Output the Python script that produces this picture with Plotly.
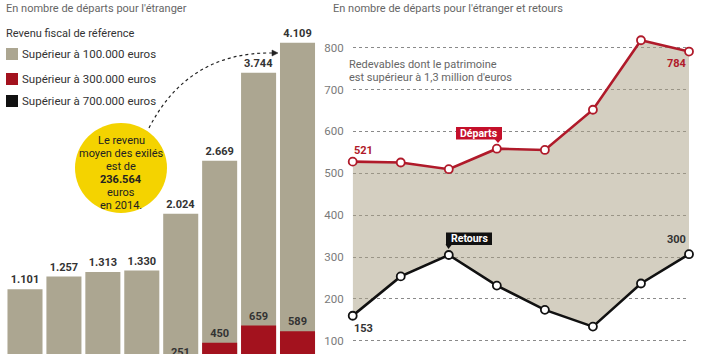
import plotly.graph_objects as go

# ---------------- data ----------------
years = [2007, 2008, 2009, 2010, 2011, 2012, 2013, 2014]
sup_100k = [1101, 1257, 1313, 1330, 2024, 2669, 3744, 4109]
sup_300k = [None, None, None, None, 251, 450, 659, 589]
sup_700k = [None] * 8  # hidden below the crop

departs = [521, 519, 503, 552, 549, 645, 811, 784]
retours = [153, 247, 298, 225, 167, 127, 230, 300]
grid_ticks = [100, 200, 300, 400, 500, 600, 700, 800]

legend_labels = ["Supérieur à 100.000 euros", "Supérieur à 300.000 euros", "Supérieur à 700.000 euros"]

# ---------------- style ----------------
FONT = "Roboto"
BEIGE = "#aca691"
RED_BAR = "#a3121e"
RED_LINE = "#b01a2a"
RED_BOX = "#c4102b"
BLACK = "#111111"
FILL = "rgba(169,159,131,0.5)"
YELLOW = "#f4d300"
TXT = "#333333"
GREY = "#666666"

W, H = 708, 354


def fr(v):
    return f"{v:,}".replace(",", ".")


fig = go.Figure()

# ---- left: bars ----
fig.add_trace(go.Bar(
    x=years, y=sup_100k, marker_color=BEIGE, marker_line_width=0,
    text=[fr(v) for v in sup_100k], textposition="outside", cliponaxis=False,
    textfont=dict(family=FONT, size=11, color=TXT, weight=700),
    xaxis="x", yaxis="y", showlegend=False, hoverinfo="skip"))
fig.add_trace(go.Bar(
    x=years, y=sup_300k, marker_color=RED_BAR, marker_line_width=0,
    text=[fr(v) if v is not None else "" for v in sup_300k], textposition="outside",
    cliponaxis=False,
    textfont=dict(family=FONT, size=11, color=TXT, weight=700),
    xaxis="x", yaxis="y", showlegend=False, hoverinfo="skip"))
fig.add_trace(go.Bar(
    x=years, y=sup_700k, marker_color=BLACK, marker_line_width=0,
    xaxis="x", yaxis="y", showlegend=False, hoverinfo="skip"))

# ---- right: grid axis holder ----
fig.add_trace(go.Scatter(x=[years[0]], y=[None], mode="lines", xaxis="x2", yaxis="y2",
                         showlegend=False, hoverinfo="skip"))

# ---- right: lines ----
fig.add_trace(go.Scatter(x=years, y=retours, mode="lines", line=dict(width=0),
                         xaxis="x2", yaxis="y4", showlegend=False, hoverinfo="skip"))
fig.add_trace(go.Scatter(x=years, y=departs, mode="lines", line=dict(width=0),
                         fill="tonexty", fillcolor=FILL,
                         xaxis="x2", yaxis="y4", showlegend=False, hoverinfo="skip"))
fig.add_trace(go.Scatter(x=years, y=retours, mode="lines+markers", cliponaxis=False,
                         line=dict(color=BLACK, width=2.6),
                         marker=dict(size=8, color="white", line=dict(color=BLACK, width=1.8)),
                         xaxis="x2", yaxis="y4", showlegend=False, hoverinfo="skip"))
fig.add_trace(go.Scatter(x=years, y=departs, mode="lines+markers", cliponaxis=False,
                         line=dict(color=RED_LINE, width=2.6),
                         marker=dict(size=8, color="white", line=dict(color=RED_LINE, width=1.8)),
                         xaxis="x2", yaxis="y4", showlegend=False, hoverinfo="skip"))
# dummy trace for the pixel overlay axes
fig.add_trace(go.Scatter(x=[None], y=[None], xaxis="x3", yaxis="y3",
                         showlegend=False, hoverinfo="skip"))

# ---- axes ----
bar_px0, bar_step = 25.0, 38.93
left_w = 320.0
y_lo, y_hi = 312, 4630
fig.update_layout(
    xaxis=dict(domain=[0, left_w / W],
               range=[years[0] - bar_px0 / bar_step, years[0] + (left_w - bar_px0) / bar_step],
               visible=False, fixedrange=True),
    yaxis=dict(domain=[0, 1], range=[y_lo, y_hi], visible=False),
    xaxis2=dict(domain=[352.7 / W, 689.0 / W], range=[years[0], years[-1]],
                visible=False, anchor="y2"),
    yaxis2=dict(domain=[0, 1], range=[68.5, 913.9], anchor="x2",
                tickvals=grid_ticks, showgrid=True, gridcolor="#8a8a8a",
                griddash="dot", gridwidth=1, zeroline=False, showline=False,
                ticks="", ticklabelstandoff=8,
                tickfont=dict(family=FONT, size=11.5, color="#7a7a7a")),
    yaxis4=dict(overlaying="y2", anchor="x2", range=[61.6, 907.1], visible=False),
    xaxis3=dict(domain=[0, 1], range=[0, W], visible=False, anchor="y3"),
    yaxis3=dict(domain=[0, 1], range=[H, 0], visible=False, anchor="x3"),
    barmode="overlay", bargap=0.1,
    width=W, height=H, margin=dict(l=0, r=0, t=0, b=0),
    paper_bgcolor="white", plot_bgcolor="rgba(0,0,0,0)",
    font=dict(family=FONT),
    showlegend=False,
)

shapes = []
anns = []


def ann(x, y, text, size=11, color=TXT, xanchor="left", weight=400, **kw):
    anns.append(dict(x=x, y=y, xref="x3", yref="y3", text=text, showarrow=False,
                     xanchor=xanchor, yanchor="middle",
                     font=dict(family=FONT, size=size, color=color, weight=weight), **kw))


# subtitles
ann(4, 8, "En nombre de départs pour l'étranger", size=11, color=GREY)
ann(331, 8, "En nombre de départs pour l'étranger et retours", size=11, color=GREY)
ann(4, 33, "Revenu fiscal de référence", size=11, color=TXT)

# legend (keys)
leg_y = [54, 79, 101]
for lab, col, yy in zip(legend_labels, [BEIGE, RED_BAR, BLACK], leg_y):
    shapes.append(dict(type="rect", xref="x3", yref="y3", x0=6, x1=18, y0=yy - 6, y1=yy + 6,
                       fillcolor=col, line=dict(width=0)))
    ann(19.5, yy, lab, size=11.5, color=TXT)

# label of the 2011 red bar, whose top lies below the visible area
px_per_unit = H / (y_hi - y_lo)
i251 = 4
lab_y = H - (sup_300k[i251] - y_lo) * px_per_unit - 7
lab_x = bar_px0 + (years[i251] - years[0]) * bar_step
ann(lab_x, lab_y, fr(sup_300k[i251]), size=11, color=TXT, xanchor="center", weight=700)

# yellow bubble
shapes.append(dict(type="circle", xref="x3", yref="y3", x0=75, x1=167, y0=123, y1=213,
                   fillcolor=YELLOW, line=dict(width=0), layer="below"))
bubble_lines = [("Le revenu", 140, 400), ("moyen des exilés", 153.5, 400), ("est de", 166, 400),
                ("236.564", 179, 700), ("euros", 192, 400), ("en 2014.", 205, 400)]
for t, yy, wgt in bubble_lines:
    ann(121, yy, t, size=11, color="#222222", xanchor="center", weight=wgt, borderpad=0)

# curved dotted arrow
shapes.append(dict(type="path", xref="x3", yref="y3",
                   path="M 149,128 Q 188,52 272,53",
                   line=dict(color="#222222", width=1.2, dash="dot")))
shapes.append(dict(type="path", xref="x3", yref="y3",
                   path="M 272,50 L 278,53 L 272,56 Z",
                   fillcolor="#222222", line=dict(color="#222222", width=0.5)))

# right note
ann(347, 64, "Redevables dont le patrimoine", size=11, color=GREY)
ann(347, 77, "est supérieur à 1,3 million d'euros", size=11, color=GREY)

# callout boxes
shapes.append(dict(type="rect", xref="x3", yref="y3", x0=456, x1=502, y0=127, y1=139.5,
                   fillcolor=RED_BOX, line=dict(width=0)))
shapes.append(dict(type="path", xref="x3", yref="y3", path="M 494.5,139 L 501.5,139 L 498,143 Z",
                   fillcolor=RED_BOX, line=dict(width=0)))
ann(479, 133.3, "Départs", size=10.5, color="white", xanchor="center", weight=700)

shapes.append(dict(type="rect", xref="x3", yref="y3", x0=446, x1=492, y0=232.5, y1=245,
                   fillcolor=BLACK, line=dict(width=0)))
shapes.append(dict(type="path", xref="x3", yref="y3", path="M 445.5,244.5 L 452,244.5 L 448.5,249 Z",
                   fillcolor=BLACK, line=dict(width=0)))
ann(469, 238.8, "Retours", size=10.5, color="white", xanchor="center", weight=700)

# end labels on lines
def dlab(i, series, col, xanchor, xshift, yshift):
    anns.append(dict(x=years[i], y=series[i], xref="x2", yref="y4", text=str(series[i]),
                     showarrow=False, xanchor=xanchor, yanchor="middle",
                     xshift=xshift, yshift=yshift,
                     font=dict(family=FONT, size=11, color=col, weight=700)))


dlab(0, departs, RED_LINE, "left", -1, 11)
dlab(7, departs, RED_LINE, "right", 0, -12)
dlab(0, retours, "#333333", "left", -1, -13)
dlab(7, retours, "#333333", "right", -1, 15)

fig.update_layout(shapes=shapes, annotations=anns)

fig.write_html("out.html")
